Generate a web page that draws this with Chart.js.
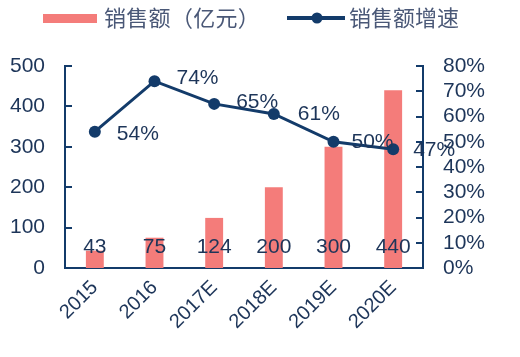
<!DOCTYPE html>
<html><head><meta charset="utf-8">
<script src="https://cdn.jsdelivr.net/npm/chart.js@4/dist/chart.umd.min.js"></script>
<style>html,body{margin:0;padding:0;background:#fff}#wrap{width:520px;height:357px}</style>
</head><body><div id="wrap"><canvas id="c" width="520" height="357"></canvas></div>
<script>
const categories = ['2015','2016','2017E','2018E','2019E','2020E'];
const salesValues = [43, 75, 124, 200, 300, 440];
const growthValues = [54, 74, 65, 61, 50, 47];
const leftTicks = [0,100,200,300,400,500];
const rightTicks = [0,10,20,30,40,50,60,70,80];
const seriesNames = ['销售额（亿元）','销售额增速'];

const NAVY = '#133b6a';
const TEXT = '#1d3559';
const BAR = '#f47c7a';
const FONT = '"Liberation Sans", Arial, sans-serif';
const CJK = '"Noto Sans CJK SC", sans-serif';

const decor = {
  id: 'decor',
  afterDatasetsDraw(chart) {
    const ctx = chart.ctx;
    const ca = chart.chartArea;
    const y1 = chart.scales.y1, y2 = chart.scales.y2;
    ctx.save();
    // inward ticks
    ctx.strokeStyle = NAVY; ctx.lineWidth = 2;
    leftTicks.forEach(v => { const p = Math.round(y1.getPixelForValue(v)); ctx.beginPath(); ctx.moveTo(ca.left, p); ctx.lineTo(ca.left + 7, p); ctx.stroke(); });
    rightTicks.forEach(v => { const p = Math.round(y2.getPixelForValue(v)); ctx.beginPath(); ctx.moveTo(ca.right, p); ctx.lineTo(ca.right - 7, p); ctx.stroke(); });
    // bar labels
    ctx.fillStyle = TEXT; ctx.font = '21px ' + FONT; ctx.textAlign = 'center'; ctx.textBaseline = 'middle';
    const bm = chart.getDatasetMeta(0);
    bm.data.forEach((el, i) => { ctx.fillText(String(salesValues[i]), el.x, y1.getPixelForValue(0) - 21); });
    // line labels
    const lm = chart.getDatasetMeta(1);
    ctx.textAlign = 'left'; ctx.font = '21px ' + FONT;
    const offs = [[22,3],[22,-3],[22,-2],[24,0],[18,0],[20,1]];
    lm.data.forEach((el, i) => { ctx.fillText(growthValues[i] + '%', el.x + offs[i][0], el.y + offs[i][1]); });
    // legend
    ctx.fillStyle = BAR; ctx.fillRect(43, 14, 54, 9);
    ctx.fillStyle = '#4a5877'; ctx.font = '22px ' + CJK; ctx.textBaseline = 'middle';
    const chars = Array.from(seriesNames[0]);
    chars.forEach((ch, i) => { ctx.fillText(ch, 104 + i * 22.3 + (ch === '）' ? 0 : 0), 18); });
    ctx.strokeStyle = NAVY; ctx.lineWidth = 4; ctx.beginPath(); ctx.moveTo(287, 18); ctx.lineTo(345, 18); ctx.stroke();
    ctx.fillStyle = NAVY; ctx.beginPath(); ctx.arc(317, 18, 5.5, 0, Math.PI*2); ctx.fill();
    ctx.fillStyle = '#4a5877'; ctx.fillText(seriesNames[1], 349, 18);
    ctx.restore();
  }
};

new Chart(document.getElementById('c'), {
  data: {
    labels: categories,
    datasets: [
      { type: 'bar', label: seriesNames[0], data: salesValues, backgroundColor: BAR, yAxisID: 'y1', barPercentage: 0.3, categoryPercentage: 1, order: 2 },
      { type: 'line', label: seriesNames[1], data: growthValues, borderColor: NAVY, backgroundColor: NAVY, borderWidth: 3, pointRadius: 6, pointBackgroundColor: NAVY, pointBorderWidth: 0, yAxisID: 'y2', order: 1 }
    ]
  },
  options: {
    responsive: false, animation: false,
    layout: { padding: { top: 66, left: 0, right: 0, bottom: 0 } },
    plugins: { legend: { display: false }, tooltip: { enabled: false } },
    scales: {
      x: {
        offset: true,
        grid: { display: false, drawTicks: false },
        border: { color: NAVY, width: 2 },
        ticks: { color: TEXT, font: { size: 20, family: FONT }, maxRotation: 45, minRotation: 45, padding: 8, autoSkip: false },
        afterFit: s => { s.height = 89; }
      },
      y1: {
        position: 'left', min: 0, max: 500,
        afterBuildTicks: s => { s.ticks = leftTicks.map(v => ({ value: v })); },
        grid: { display: false, drawTicks: false },
        border: { color: NAVY, width: 2 },
        ticks: { color: TEXT, font: { size: 21, family: FONT }, padding: 20, autoSkip: false },
        afterFit: s => { s.width = 65; }
      },
      y2: {
        position: 'right', min: 0, max: 80,
        afterBuildTicks: s => { s.ticks = rightTicks.map(v => ({ value: v })); },
        grid: { display: false, drawTicks: false },
        border: { color: NAVY, width: 2 },
        ticks: { color: TEXT, font: { size: 21, family: FONT }, padding: 20, autoSkip: false, callback: v => v + '%' },
        afterFit: s => { s.width = 97; }
      }
    }
  },
  plugins: [decor]
});
</script></body></html>
